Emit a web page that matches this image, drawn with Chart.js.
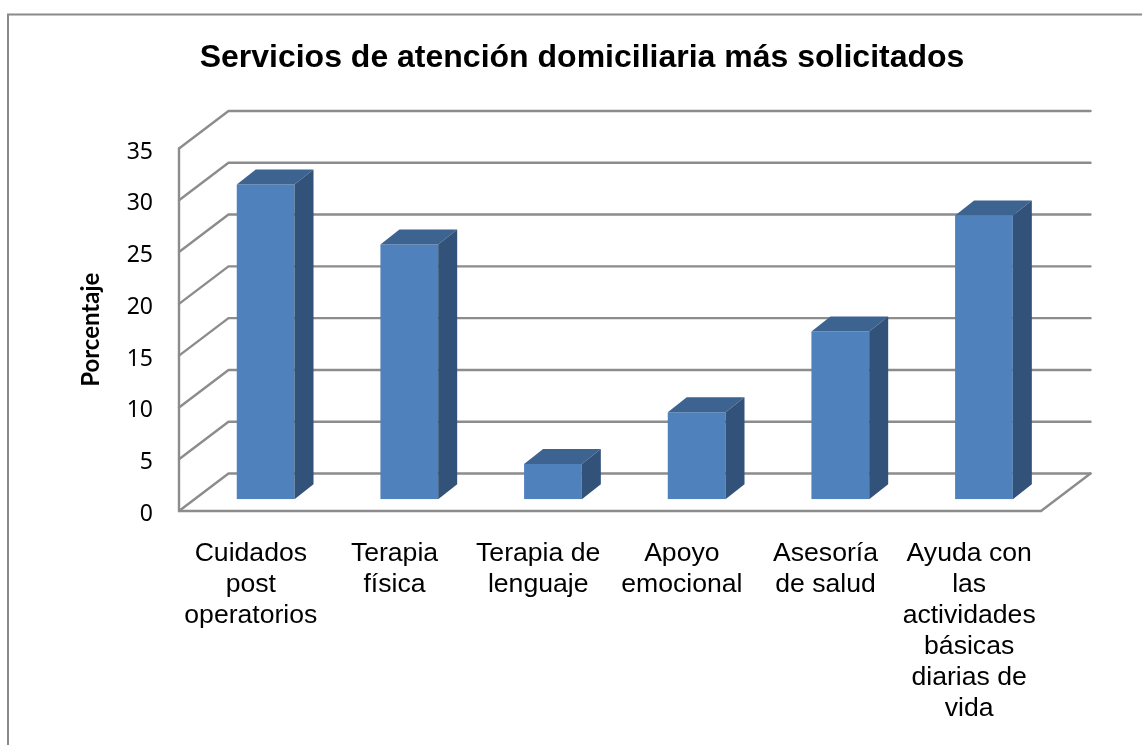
<!DOCTYPE html>
<html><head><meta charset="utf-8">
<style>html,body{margin:0;padding:0;background:#fff}#w{width:1142px;height:745px;position:relative}</style>
<script src="https://cdn.jsdelivr.net/npm/chart.js@4"></script>
</head><body><div id="w"><canvas id="c"></canvas></div>
<script>
const categories = [
  ["Cuidados","post","operatorios"],
  ["Terapia","física"],
  ["Terapia de","lenguaje"],
  ["Apoyo","emocional"],
  ["Asesoría","de salud"],
  ["Ayuda con","las","actividades","básicas","diarias de","vida"]
];
const values = [30.4, 24.6, 3.4, 8.4, 16.2, 27.4];
const yTicks = [0,5,10,15,20,25,30,35];
const chartTitle = "Servicios de atención domiciliaria más solicitados";
const yTitle = "Porcentaje";

const LINE = '#8c8c8c', FACE = '#4f81bd', SIDE = '#32527a', TOP = '#3d6391';
const wall = {dx: 49.5, dy: -37.5};
const barShift = {dx: 14.8, dy: -11.7};
const barDepth = {dx: 19, dy: -15};

const scene = {
  id: 'scene',
  beforeDraw(chart){
    const c = chart.ctx;
    c.save(); c.strokeStyle = '#8a8a8a'; c.lineWidth = 2;
    c.beginPath(); c.moveTo(8,745); c.lineTo(8,14.5); c.lineTo(1142,14.5); c.stroke(); c.restore();
  },
  beforeDatasetsDraw(chart){
    const c = chart.ctx, y = chart.scales.y, a = chart.chartArea;
    c.save(); c.strokeStyle = LINE; c.lineWidth = 2.4; c.lineCap = 'round'; c.lineJoin = 'round';
    yTicks.forEach(t => {
      const p = y.getPixelForValue(t);
      c.beginPath(); c.moveTo(a.left,p); c.lineTo(a.left+wall.dx,p+wall.dy); c.lineTo(a.right+wall.dx,p+wall.dy); c.stroke();
    });
    const p0 = y.getPixelForValue(0);
    c.beginPath(); c.moveTo(a.left,a.top); c.lineTo(a.left,p0); c.lineTo(a.right,p0); c.lineTo(a.right+wall.dx,p0+wall.dy); c.stroke();
    c.restore();
  },
  beforeDatasetDraw(chart){
    chart.ctx.save(); chart.ctx.translate(barShift.dx, barShift.dy);
  },
  afterDatasetDraw(chart, args){
    const c = chart.ctx; 
    args.meta.data.forEach(b => {
      const {x,y,base,width} = b.getProps(['x','y','base','width'], true);
      const l = x-width/2, r = x+width/2, dx = barDepth.dx, dy = barDepth.dy;
      c.fillStyle = TOP;
      c.beginPath(); c.moveTo(l,y); c.lineTo(l+dx,y+dy); c.lineTo(r+dx,y+dy); c.lineTo(r,y); c.closePath(); c.fill();
      c.fillStyle = SIDE;
      c.beginPath(); c.moveTo(r,y); c.lineTo(r+dx,y+dy); c.lineTo(r+dx,base+dy); c.lineTo(r,base); c.closePath(); c.fill();
    });
    c.restore();
  }
};

new Chart(document.getElementById('c'), {
  type: 'bar',
  data: { labels: categories, datasets: [{ data: values, backgroundColor: FACE, barPercentage: 0.402, categoryPercentage: 1 }] },
  plugins: [scene],
  options: {
    responsive: true, maintainAspectRatio: false, animation: false,
    layout: { padding: { left: 22, right: 0, top: 0, bottom: 0 } },
    plugins: {
      legend: { display: false }, tooltip: { enabled: false },
      title: { display: true, text: chartTitle, color: '#000',
        font: { family: '"Liberation Sans"', size: 32, weight: 'bold', lineHeight: 1.2 },
        padding: { top: 39, bottom: 71.1 } }
    },
    scales: {
      x: {
        grid: { display: false, drawTicks: false }, border: { display: false },
        afterFit(s){ s.height = 234; },
        ticks: { color: '#000', autoSkip: false, maxRotation: 0, minRotation: 0, padding: 27,
          font: { family: '"Liberation Sans"', size: 26.6, lineHeight: 1.165 } }
      },
      y: {
        min: 0, max: 35,
        grid: { display: false, drawTicks: false }, border: { display: false },
        afterFit(s){ s.width = 157; },
        afterBuildTicks(s){ s.ticks = yTicks.map(v => ({value: v})); },
        title: { display: true, text: yTitle, color: '#000',
          font: { family: 'Lato', size: 24, weight: 'bold', lineHeight: 1.2 }, padding: { top: 55, bottom: 0 } },
        ticks: { color: '#000', padding: 26, labelOffset: 3.5,
          font: { family: '"Noto Sans"', size: 23 } }
      },
      spacer: {
        type: 'linear', position: 'right', display: true,
        grid: { display: false, drawTicks: false }, border: { display: false },
        ticks: { display: false },
        afterFit(s){ s.width = 101; }
      }
    }
  }
});
</script></body></html>
